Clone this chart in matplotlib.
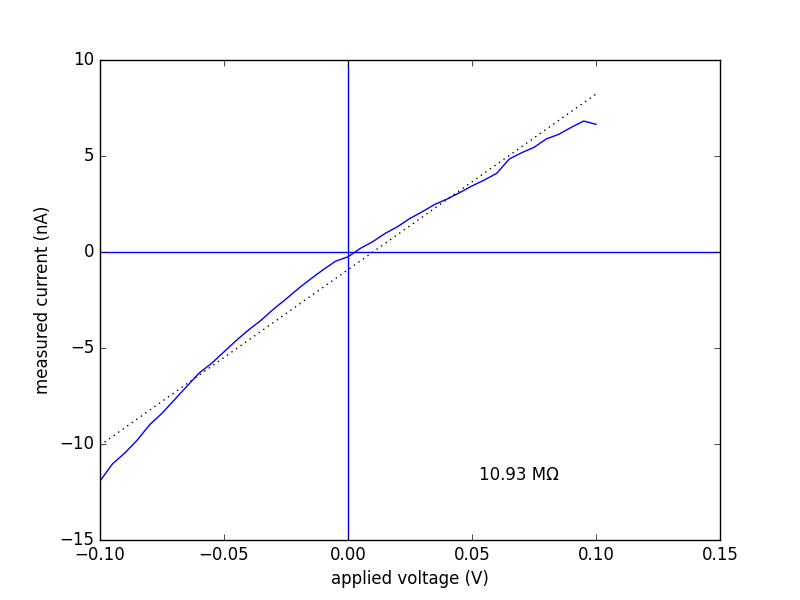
import matplotlib
matplotlib.use("Agg")
import matplotlib.pyplot as plt
import numpy as np

# ==============================
# DATA
# ==============================

voltage = np.round(np.arange(-0.100, 0.1001, 0.005), 3)
current = [
    -11.93, -11.04, -10.47, -9.80, -9.00, -8.40, -7.70, -7.00, -6.30, -5.80,
    -5.20, -4.60, -4.05, -3.55, -2.97, -2.45, -1.90, -1.40, -0.92, -0.48,
    -0.25, 0.19, 0.54, 0.97, 1.32, 1.75, 2.10, 2.48, 2.76, 3.09,
    3.44, 3.75, 4.10, 4.84, 5.17, 5.45, 5.89, 6.13, 6.49, 6.82,
    6.65,
]

# linear fit shown as dotted line (nA/V, nA)
fit_slope = 91.5
fit_intercept = -0.92
resistance_label = "10.93 M\u03a9"

# ==============================
# PLOT
# ==============================

plt.style.use("classic")
fig = plt.figure(figsize=(8, 6), dpi=100)
ax = fig.add_subplot(111)

ax.plot(voltage, current, "b-")
ax.plot(voltage, fit_slope * voltage + fit_intercept, "k:")
ax.axhline(0, color="b")
ax.axvline(0, color="b")

ax.text(0.053, -11.6, resistance_label, fontsize=12, va="center")

ax.set_xlim(-0.10, 0.15)
ax.set_ylim(-15, 10)
ax.set_xlabel("applied voltage (V)")
ax.set_ylabel("measured current (nA)")

fig.savefig("out.png", dpi=100, facecolor="white")
